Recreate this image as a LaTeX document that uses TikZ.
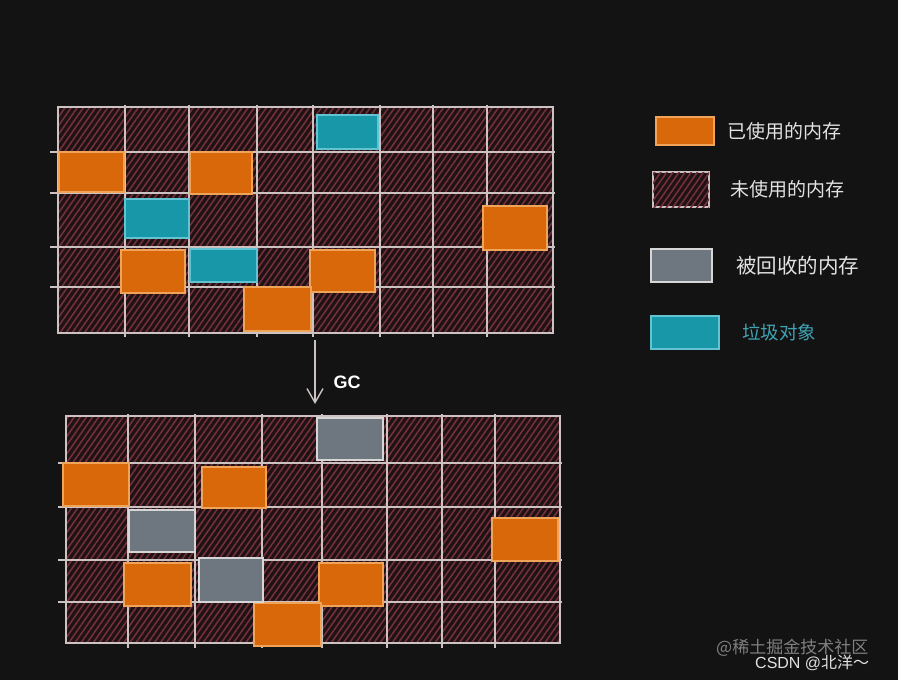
\documentclass[tikz,border=0pt]{standalone}
\usepackage{fontspec}
\setmainfont{Liberation Sans}
\newfontfamily\cjk{Noto Sans CJK SC}
\usepackage{xcolor}
\usetikzlibrary{arrows.meta}
\usetikzlibrary{patterns.meta, positioning}

\definecolor{bgdark}{HTML}{131313}
\definecolor{cellbg}{HTML}{1E1214}
\definecolor{hatchred}{HTML}{74303A}
\definecolor{gridgray}{HTML}{CDC2C2}
\definecolor{usedorange}{HTML}{D9680B}
\definecolor{usedline}{HTML}{F0A45A}
\definecolor{garbcyan}{HTML}{1897A9}
\definecolor{garbline}{HTML}{62C4D3}
\definecolor{freedgray}{HTML}{6E7780}
\definecolor{freedline}{HTML}{D6D6D6}
\definecolor{legendwhite}{HTML}{E2E2E2}
\definecolor{garbtext}{HTML}{3FA3B4}

\tikzset{
  hatch/.style={fill=cellbg, postaction={pattern={Lines[angle=55,distance=5pt,line width=1.6pt]}, pattern color=hatchred}},
  gridline/.style={draw=gridgray, line width=1.3pt},
  usedblk/.style={fill=usedorange, draw=usedline, line width=1.4pt},
  garbblk/.style={fill=garbcyan, draw=garbline, line width=2.4pt},
  freedblk/.style={fill=freedgray, draw=freedline, line width=1.6pt},
  keybox/.style={inner sep=0pt, outer sep=0pt},
  keytext/.style={text=legendwhite, font=\cjk\fontsize{19}{19}\selectfont, inner sep=0pt}
}

\begin{document}
\begin{tikzpicture}[x=1pt, y=-1pt]
  \fill[bgdark] (0,0) rectangle (898,680);
  \useasboundingbox (0,0) rectangle (898,680);

  % memory before GC
  \fill[hatch] (58,107) rectangle (553,333);
  \foreach \x in {125,189,257,313,380,433,487}
    \draw[gridline] (\x,105) -- (\x,337);
  \foreach \y in {152,193,247,287}
    \draw[gridline] (50,\y) -- (555,\y);
  \draw[gridline] (58,107) rectangle (553,333);

  \foreach \a/\b/\c/\d in {59/152/124/192, 190/152/252/194, 483/206/547/250,
      121/250/185/293, 310/250/375/292, 244/287/311/331}
    \draw[usedblk] (\a,\b) rectangle (\c,\d);
  \foreach \a/\b/\c/\d in {317/115/378/149, 125/199/189/238, 190/249/257/282}
    \draw[garbblk] (\a,\b) rectangle (\c,\d);

  % GC arrow
  \coordinate (gcfrom) at (315,340);
  \coordinate (gcto) at (315,404);
  \draw[gridgray, line width=1.4pt, -{Straight Barb[length=14pt,width=16pt,line width=1.4pt]}] (gcfrom) -- (gcto);
  \node[text=white, font=\bfseries\fontsize{18}{18}\selectfont] (gclabel) at (347,382) {GC};

  % memory after GC
  \fill[hatch] (66,416) rectangle (560,643);
  \foreach \x in {128,195,262,322,387,442,495}
    \draw[gridline] (\x,414) -- (\x,648);
  \foreach \y in {463,507,560,602}
    \draw[gridline] (58,\y) -- (562,\y);
  \draw[gridline] (66,416) rectangle (560,643);

  \foreach \a/\b/\c/\d in {63/463/129/506, 202/467/266/508, 492/518/558/561,
      124/563/191/606, 319/563/383/606, 254/603/321/646}
    \draw[usedblk] (\a,\b) rectangle (\c,\d);
  \foreach \a/\b/\c/\d in {317/418/383/460, 129/510/195/552, 199/558/263/602}
    \draw[freedblk] (\a,\b) rectangle (\c,\d);

  % legend
  \node[keybox, usedblk, minimum width=58pt, minimum height=28pt] (keyused) at (685,131) {};
  \node[keytext, anchor=west, right=13pt of keyused] (keyusedtxt) {已使用的内存};

  \node[keybox, hatch, draw=gridgray, line width=1.2pt, minimum width=56pt, minimum height=35pt] (keyfree) at (681,189.5) {};
  \node[keytext, anchor=west, right=21pt of keyfree] (keyfreetxt) {未使用的内存};

  \node[keybox, freedblk, minimum width=61pt, minimum height=33pt] (keyfreed) at (681.5,265.5) {};
  \node[keytext, anchor=west, right=24pt of keyfreed, font=\cjk\fontsize{20.5}{20.5}\selectfont] (keyfreedtxt) {被回收的内存};

  \node[keybox, garbblk, minimum width=68pt, minimum height=33pt] (keygarb) at (685,332.5) {};
  \node[keytext, anchor=west, right=23pt of keygarb, text=garbtext, font=\cjk\fontsize{18.5}{18.5}\selectfont] (keygarbtxt) {垃圾对象};

  % watermark
  \node[anchor=west, inner sep=0pt, text=gray, font=\cjk\fontsize{17}{17}\selectfont] (markone) at (716,648) {@稀土掘金技术社区};
  \node[anchor=west, inner sep=0pt, text=legendwhite, font=\fontsize{16}{16}\selectfont] (marktwo) at (755,663) {CSDN @{\cjk 北洋～}};
\end{tikzpicture}
\end{document}
